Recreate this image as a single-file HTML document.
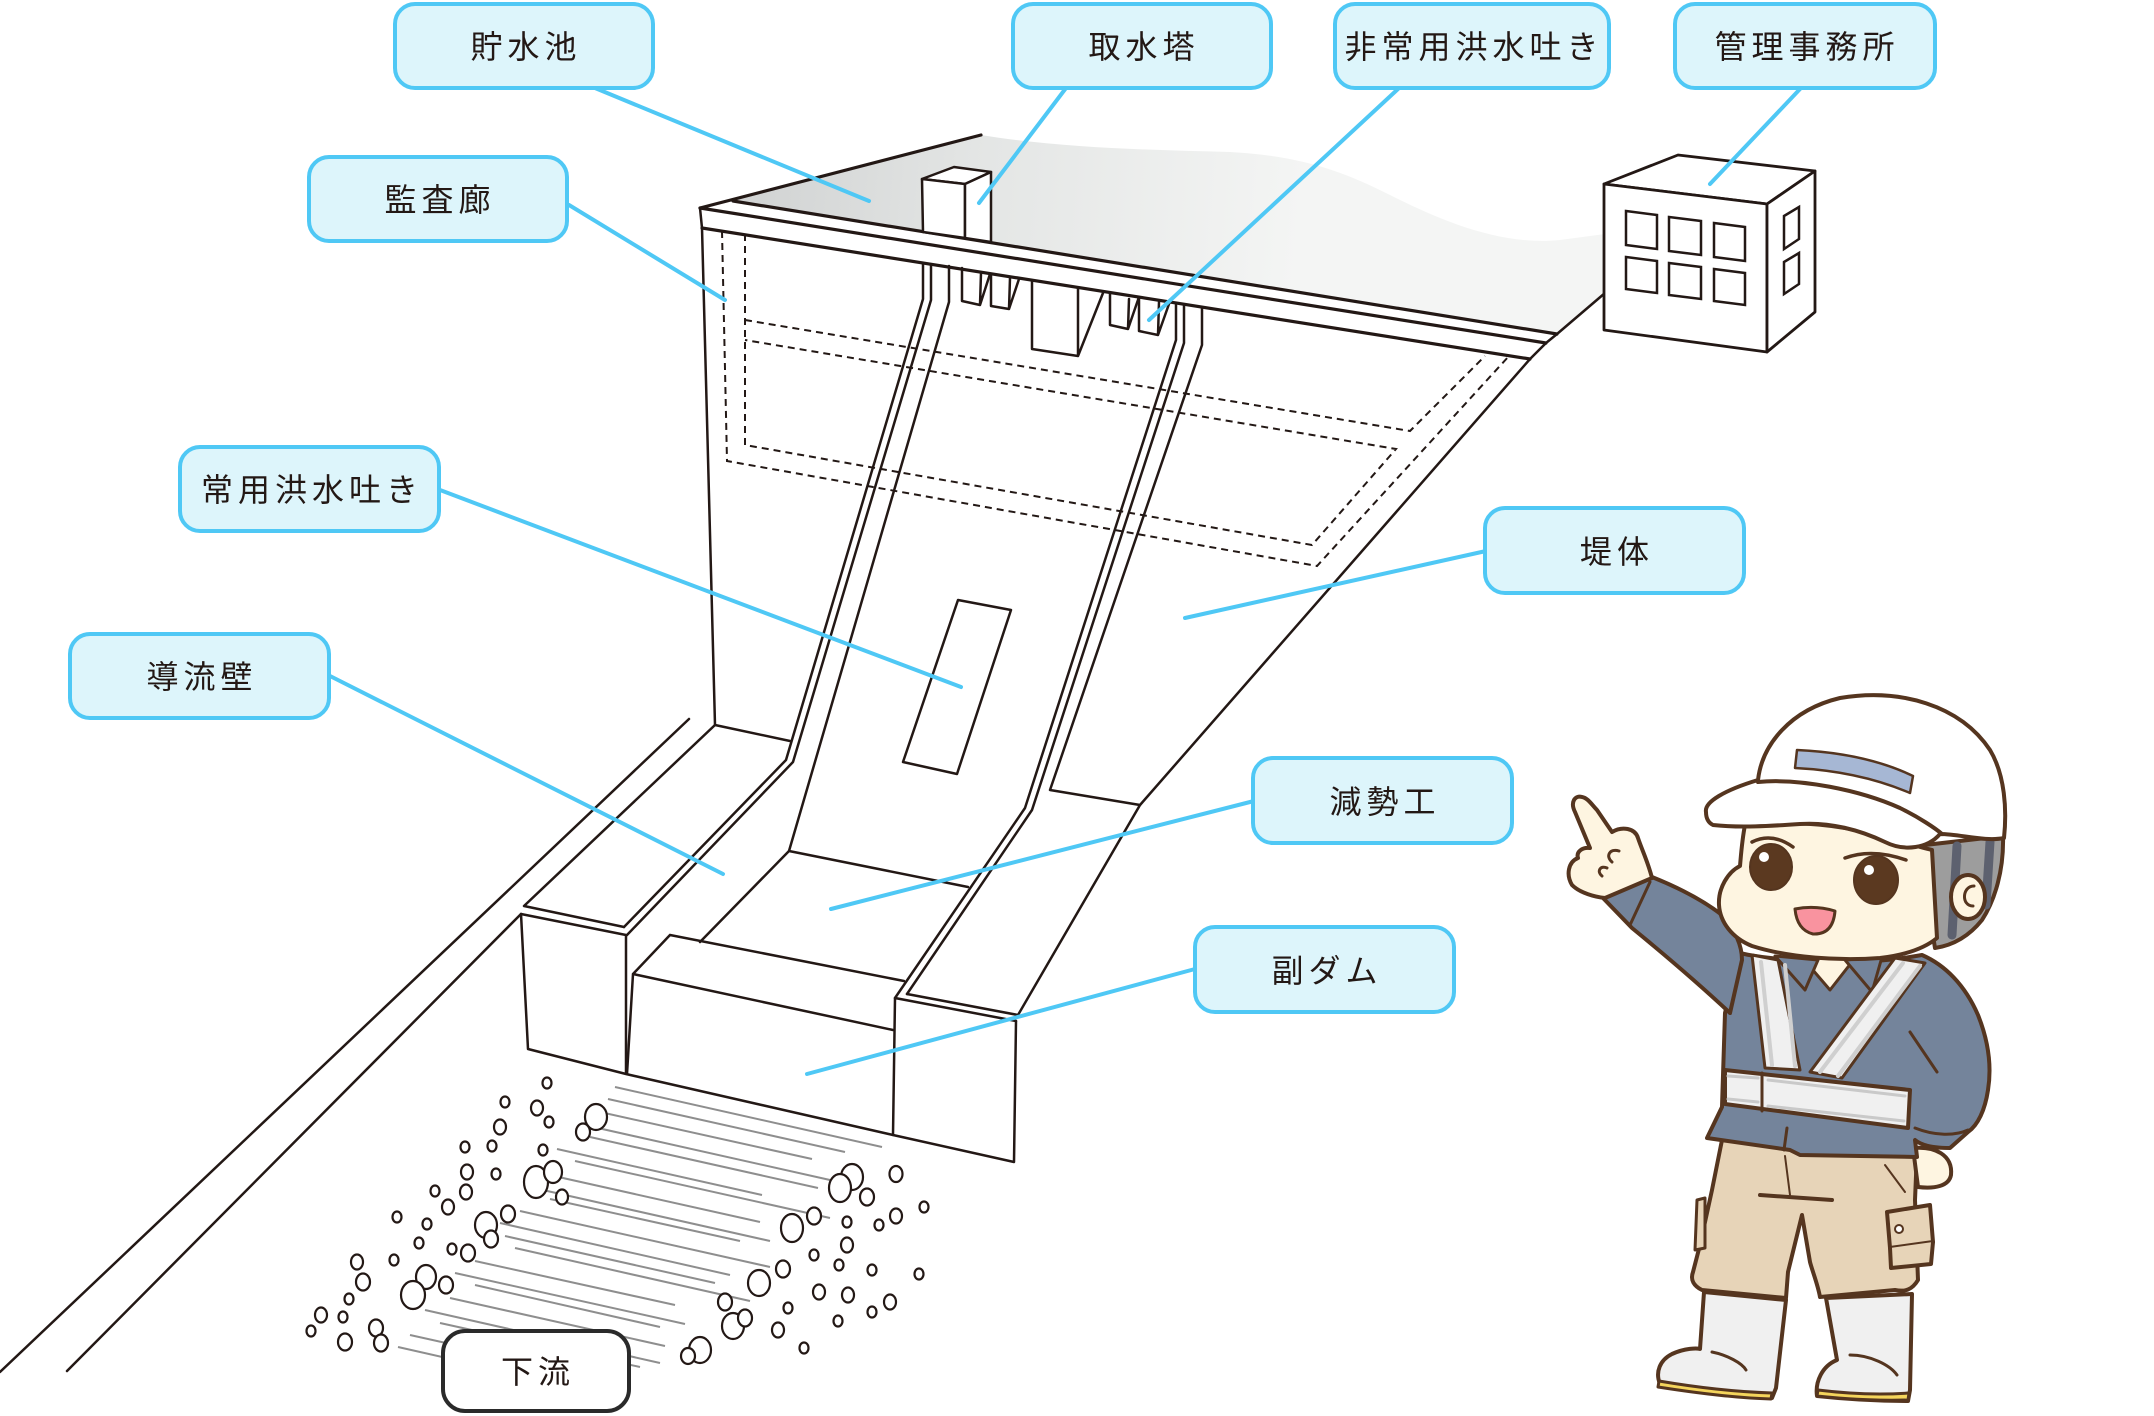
<!DOCTYPE html>
<html><head><meta charset="utf-8"><style>
html,body{margin:0;padding:0;background:#fff;}
svg{display:block;}
.d{fill:none;stroke:#231815;stroke-width:2.5;stroke-linejoin:round;stroke-linecap:round;}
.c{fill:none;stroke:#231815;stroke-width:3.2;stroke-linecap:round;}
.ds{fill:none;stroke:#231815;stroke-width:2;stroke-dasharray:7 5;}
.w{fill:none;stroke:#8e8e8e;stroke-width:2;}
.r{fill:#fff;stroke:#231815;stroke-width:2.2;}
.l{stroke:#4fc8f5;stroke-width:4;stroke-linecap:round;fill:none;}
.b{fill:#ddf5fb;stroke:#4fc8f5;stroke-width:4;}
.t{font-family:"Liberation Sans","Noto Sans CJK JP",sans-serif;font-size:32px;fill:#231815;letter-spacing:5px;text-anchor:middle;font-weight:normal;}
.o{stroke:#55351f;stroke-width:4;stroke-linejoin:round;stroke-linecap:round;}
</style></head><body>
<svg width="2154" height="1416" viewBox="0 0 2154 1416" xmlns="http://www.w3.org/2000/svg">
<defs>
<linearGradient id="g" x1="720" y1="200" x2="1300" y2="250" gradientUnits="userSpaceOnUse">
<stop offset="0" stop-color="#cfd1d1"/><stop offset="0.45" stop-color="#e4e6e5"/><stop offset="1" stop-color="#f4f5f4"/>
</linearGradient>
</defs>

<!-- reservoir -->
<path d="M700,208 L981,135 C1060,148 1150,150 1230,152 C1300,156 1340,170 1390,195 C1440,220 1500,246 1560,240 L1605,234 L1605,293 L1557,334 L733,201 Z" fill="url(#g)"/>
<path class="c" d="M700,208 L981,135"/>

<!-- crest -->
<path class="c" d="M733,201 L1557,334"/>
<path class="c" d="M700,208 L1546,343"/>
<path class="c" d="M702,228 L1530,359"/>
<path class="d" d="M700,208 L702,228 L715,725"/>
<path class="d" d="M1605,293 L1557,334 L1546,343 L1530,359 L1140,805 L1018,1015"/>

<!-- gallery dashed -->
<path class="ds" d="M722,231 L727,461 L1317,566 L1509,356"/>
<path class="ds" d="M745,234 L745,445 L1312,545 L1396,449 L745,340"/>
<path class="ds" d="M745,320 L1410,431 L1485,356"/>

<!-- spillway walls -->
<path class="d" d="M923,263 L923,299 L786,760 L624,927"/>
<path class="d" d="M931,265 L931,300 L793,762 L627,935"/>
<path class="d" d="M949,266 L949,302 L789,851 L700,942"/>
<path class="d" d="M1176,304 L1176,340 L1025,808 L895,998"/>
<path class="d" d="M1184,305 L1184,343 L1032,810 L907,994"/>
<path class="d" d="M1202,307 L1202,345 L1050,790 L1140,805"/>
<path class="d" d="M789,851 L968,887"/>

<!-- gates -->
<path class="d" d="M962,268 L962,301 L980,305 L981,273 M980,305 L990,274"/>
<path class="d" d="M991,274 L991,306 L1009,309 L1010,278 M1009,309 L1019,279"/>
<path class="d" d="M1032,281 L1032,349 L1078,356 L1078,288 M1078,356 L1103,293"/>
<path class="d" d="M1110,293 L1110,325 L1128,329 L1129,299 M1128,329 L1139,297"/>
<path class="d" d="M1139,297 L1139,331 L1158,335 L1159,302 M1158,335 L1169,304"/>

<!-- tower -->
<path d="M922,179 L954,167 L991,172 L965,184 Z" fill="#fff" stroke="#231815" stroke-width="2.5" stroke-linejoin="round"/>
<path d="M922,179 L965,184 L965,238 L923,232 Z" fill="#fff" stroke="#231815" stroke-width="2.5" stroke-linejoin="round"/>
<path d="M965,184 L991,172 L991,242 L965,238 Z" fill="#fff" stroke="#231815" stroke-width="2.5" stroke-linejoin="round"/>

<!-- spillway opening -->
<path class="d" d="M958,600 L1011,610 L957,774 L903,762 Z"/>

<!-- lower structures -->
<path class="d" d="M715,725 L790,741"/>
<path class="d" d="M715,725 L524,906 L624,927"/>
<path class="d" d="M521,914 L626,935 L626,1074 M521,914 L528,1049 L626,1074 L893,1135 L1014,1162 L1016,1021"/>
<path class="d" d="M689,719 L0,1372"/>
<path class="d" d="M521,914 L67,1371"/>
<path class="d" d="M670,935 L904,981 M670,935 L633,974 L893,1030 M633,974 L627,1074"/>
<path class="d" d="M895,998 L1016,1021 M907,994 L1018,1015 M895,998 L893,1135"/>

<!-- building -->
<path d="M1604,184 L1678,155 L1815,171 L1767,204 Z" fill="#fff" stroke="#231815" stroke-width="2.8" stroke-linejoin="round"/>
<path d="M1604,184 L1767,204 L1767,352 L1604,330 Z" fill="#fff" stroke="#231815" stroke-width="2.8" stroke-linejoin="round"/>
<path d="M1767,204 L1815,171 L1815,312 L1767,352 Z" fill="#fff" stroke="#231815" stroke-width="2.8" stroke-linejoin="round"/>
<g fill="none" stroke="#231815" stroke-width="2.5">
<path d="M1626,211 L1657,215 L1657,249 L1626,245 Z"/>
<path d="M1669,217 L1701,221 L1701,255 L1669,251 Z"/>
<path d="M1714,223 L1745,227 L1745,261 L1714,257 Z"/>
<path d="M1626,257 L1657,261 L1657,293 L1626,289 Z"/>
<path d="M1669,263 L1701,267 L1701,299 L1669,295 Z"/>
<path d="M1714,269 L1745,273 L1745,305 L1714,301 Z"/>
<path d="M1784,216 L1799,207 L1799,239 L1784,249 Z"/>
<path d="M1784,262 L1799,253 L1799,284 L1784,294 Z"/>
</g>

<!-- water lines -->
<g class="w">
<path d="M615,1087 L882,1147"/><path d="M608,1099 L845,1152"/><path d="M600,1112 L812,1159"/>
<path d="M580,1124 L830,1180"/><path d="M590,1137 L818,1188"/><path d="M557,1149 L762,1195"/>
<path d="M575,1161 L830,1218"/><path d="M545,1174 L760,1222"/><path d="M525,1186 L770,1241"/>
<path d="M550,1199 L740,1241"/><path d="M520,1211 L770,1267"/><path d="M500,1223 L730,1275"/>
<path d="M505,1236 L715,1283"/><path d="M515,1248 L750,1301"/><path d="M475,1261 L675,1305"/>
<path d="M455,1273 L685,1324"/><path d="M475,1285 L660,1327"/><path d="M450,1298 L665,1346"/>
<path d="M425,1310 L660,1363"/><path d="M440,1323 L640,1367"/><path d="M410,1335 L590,1375"/>
<path d="M398,1347 L548,1381"/>
</g>

<!-- rocks -->
<g class="r">
<ellipse cx="547" cy="1083" rx="4.5" ry="5.5"/><ellipse cx="505" cy="1102" rx="4.5" ry="5.5"/><ellipse cx="537" cy="1108" rx="6" ry="7.5"/>
<ellipse cx="549" cy="1122" rx="4.5" ry="5.5"/><ellipse cx="500" cy="1127" rx="6" ry="7.5"/>
<ellipse cx="596" cy="1117" rx="11" ry="13"/><ellipse cx="583" cy="1132" rx="7" ry="8.5"/>
<ellipse cx="465" cy="1147" rx="4.5" ry="5.5"/><ellipse cx="492" cy="1146" rx="4.5" ry="5.5"/><ellipse cx="543" cy="1150" rx="4.5" ry="5.5"/>
<ellipse cx="467" cy="1172" rx="6" ry="7.5"/><ellipse cx="496" cy="1174" rx="4.5" ry="5.5"/>
<ellipse cx="536" cy="1182" rx="12" ry="16"/><ellipse cx="553" cy="1172" rx="9" ry="11"/><ellipse cx="562" cy="1197" rx="6" ry="7.5"/>
<ellipse cx="466" cy="1192" rx="6" ry="7.5"/><ellipse cx="435" cy="1191" rx="4.5" ry="5.5"/><ellipse cx="448" cy="1207" rx="6" ry="7.5"/>
<ellipse cx="397" cy="1217" rx="4.5" ry="5.5"/><ellipse cx="427" cy="1224" rx="4.5" ry="5.5"/>
<ellipse cx="486" cy="1225" rx="11" ry="13"/><ellipse cx="508" cy="1214" rx="7" ry="8.5"/><ellipse cx="491" cy="1239" rx="7" ry="8.5"/>
<ellipse cx="419" cy="1243" rx="4.5" ry="5.5"/><ellipse cx="452" cy="1249" rx="4.5" ry="5.5"/><ellipse cx="468" cy="1253" rx="7" ry="8.5"/>
<ellipse cx="357" cy="1262" rx="6" ry="7.5"/><ellipse cx="394" cy="1260" rx="4.5" ry="5.5"/><ellipse cx="363" cy="1282" rx="7" ry="8.5"/>
<ellipse cx="426" cy="1277" rx="10" ry="12"/><ellipse cx="413" cy="1295" rx="12" ry="14"/><ellipse cx="446" cy="1285" rx="7" ry="8.5"/>
<ellipse cx="349" cy="1299" rx="4.5" ry="5.5"/><ellipse cx="321" cy="1315" rx="6" ry="7.5"/><ellipse cx="343" cy="1317" rx="4.5" ry="5.5"/>
<ellipse cx="311" cy="1331" rx="4.5" ry="5.5"/><ellipse cx="345" cy="1342" rx="7" ry="8.5"/><ellipse cx="376" cy="1328" rx="7" ry="8.5"/><ellipse cx="381" cy="1343" rx="7" ry="8.5"/>
<ellipse cx="852" cy="1177" rx="11" ry="13"/><ellipse cx="840" cy="1188" rx="11" ry="14"/><ellipse cx="896" cy="1174" rx="6.5" ry="8"/>
<ellipse cx="867" cy="1197" rx="7" ry="8.5"/><ellipse cx="924" cy="1207" rx="4.5" ry="5.5"/><ellipse cx="896" cy="1216" rx="6" ry="7.5"/>
<ellipse cx="814" cy="1216" rx="7" ry="8.5"/><ellipse cx="792" cy="1228" rx="11" ry="14"/><ellipse cx="847" cy="1222" rx="4.5" ry="5.5"/><ellipse cx="879" cy="1225" rx="4.5" ry="5.5"/>
<ellipse cx="847" cy="1245" rx="6" ry="7.5"/><ellipse cx="814" cy="1255" rx="4.5" ry="5.5"/><ellipse cx="839" cy="1265" rx="4.5" ry="5.5"/>
<ellipse cx="783" cy="1269" rx="7" ry="8.5"/><ellipse cx="759" cy="1283" rx="11" ry="13"/><ellipse cx="872" cy="1270" rx="4.5" ry="5.5"/><ellipse cx="919" cy="1274" rx="4.5" ry="5.5"/>
<ellipse cx="819" cy="1292" rx="6" ry="7.5"/><ellipse cx="848" cy="1295" rx="6" ry="7.5"/><ellipse cx="725" cy="1302" rx="7" ry="8.5"/>
<ellipse cx="788" cy="1308" rx="4.5" ry="5.5"/><ellipse cx="890" cy="1302" rx="6" ry="7.5"/><ellipse cx="872" cy="1312" rx="4.5" ry="5.5"/><ellipse cx="838" cy="1321" rx="4.5" ry="5.5"/>
<ellipse cx="778" cy="1330" rx="6" ry="7.5"/><ellipse cx="733" cy="1326" rx="11" ry="13"/><ellipse cx="745" cy="1318" rx="7" ry="8.5"/>
<ellipse cx="700" cy="1350" rx="11" ry="13"/><ellipse cx="688" cy="1356" rx="7" ry="8"/><ellipse cx="804" cy="1348" rx="4.5" ry="5.5"/>
</g>

<!-- leader lines -->
<g class="l">
<path d="M595,88 L869,201"/>
<path d="M1066,88 L979,203"/>
<path d="M1398,89 L1149,320"/>
<path d="M1800,89 L1710,184"/>
<path d="M569,205 L725,300"/>
<path d="M440,490 L961,687"/>
<path d="M330,676 L723,874"/>
<path d="M1486,551 L1185,618"/>
<path d="M1254,801 L831,909"/>
<path d="M1195,969 L807,1074"/>
</g>

<!-- label boxes -->
<rect class="b" x="395" y="4" width="258" height="84" rx="20"/>
<text class="t" x="526" y="58">貯水池</text>
<rect class="b" x="1013" y="4" width="258" height="84" rx="20"/>
<text class="t" x="1144" y="58">取水塔</text>
<rect class="b" x="1335" y="4" width="274" height="84" rx="20"/>
<text class="t" x="1474" y="58">非常用洪水吐き</text>
<rect class="b" x="1675" y="4" width="260" height="84" rx="20"/>
<text class="t" x="1807" y="58">管理事務所</text>
<rect class="b" x="309" y="157" width="258" height="84" rx="20"/>
<text class="t" x="440" y="211">監査廊</text>
<rect class="b" x="180" y="447" width="259" height="84" rx="20"/>
<text class="t" x="312" y="501">常用洪水吐き</text>
<rect class="b" x="70" y="634" width="259" height="84" rx="20"/>
<text class="t" x="202" y="688">導流壁</text>
<rect class="b" x="1485" y="508" width="259" height="85" rx="20"/>
<text class="t" x="1617" y="563">堤体</text>
<rect class="b" x="1253" y="758" width="259" height="85" rx="20"/>
<text class="t" x="1385" y="813">減勢工</text>
<rect class="b" x="1195" y="927" width="259" height="85" rx="20"/>
<text class="t" x="1327" y="982">副ダム</text>
<rect x="443" y="1331" width="186" height="80" rx="22" fill="#fff" stroke="#2a2a2a" stroke-width="4"/>
<text class="t" x="538" y="1383">下流</text>

<!-- character -->
<g class="o">
<!-- boots -->
<path fill="#f0f0f0" d="M1704,1292 L1786,1300 L1776,1388 L1772,1398 C1735,1396 1690,1390 1660,1384 C1655,1372 1660,1360 1672,1354 C1685,1348 1697,1348 1700,1349 Z"/>
<path fill="#f5d55c" stroke-width="3" d="M1659,1381 C1700,1388 1740,1392 1772,1393 L1771,1399 C1735,1398 1690,1392 1658,1387 Z"/>
<path fill="none" stroke-width="3" d="M1712,1352 C1727,1355 1742,1363 1746,1370"/>
<path fill="#f0f0f0" d="M1826,1298 L1912,1294 L1910,1390 L1908,1401 C1880,1401 1845,1399 1817,1396 C1815,1382 1822,1366 1837,1360 Z"/>
<path fill="#f5d55c" stroke-width="3" d="M1818,1390 C1850,1394 1880,1395 1909,1393 L1908,1400 C1875,1401 1845,1399 1817,1396 Z"/>
<path fill="none" stroke-width="3" d="M1850,1355 C1870,1355 1890,1365 1897,1375"/>
<!-- pants -->
<path fill="#e7d4b8" d="M1722,1140 L1917,1152 L1915,1200 L1918,1280 C1912,1290 1905,1292 1895,1290 L1820,1297 C1818,1285 1812,1270 1810,1262 L1802,1215 L1788,1272 L1786,1298 L1702,1290 C1694,1286 1690,1280 1693,1272 L1700,1245 L1712,1190 Z"/>
<path fill="#e7d4b8" d="M1887,1212 L1930,1205 L1933,1242 L1890,1248 Z"/>
<path fill="#e7d4b8" d="M1890,1248 L1891,1268 L1931,1264 L1933,1242"/>
<circle cx="1899" cy="1229" r="4" fill="#fff" stroke-width="2"/>
<path fill="#e7d4b8" stroke-width="3" d="M1697,1200 L1705,1198 L1705,1248 L1695,1250 Z"/>
<path fill="none" d="M1760,1195 L1832,1200"/>
<path fill="none" stroke-width="2" d="M1785,1156 L1790,1195 M1885,1165 L1905,1192"/>
<!-- hand on hip -->
<path fill="#fef5e1" d="M1913,1148 C1935,1146 1953,1155 1951,1175 C1949,1186 1935,1189 1918,1187 Z"/>
<!-- jacket -->
<path fill="#74849b" d="M1740,953 C1760,958 1800,962 1850,962 C1880,962 1905,958 1922,955 C1945,965 1965,985 1978,1015 C1988,1040 1992,1065 1988,1090 C1985,1110 1978,1125 1968,1132 L1950,1148 C1935,1148 1922,1146 1915,1140 L1917,1157 L1800,1155 L1790,1150 L1707,1138 L1722,1107 L1725,1013 Z"/>
<path fill="none" stroke-width="3" d="M1910,1032 L1937,1072 M1915,1128 C1935,1136 1955,1136 1968,1130 M1787,1128 L1784,1150"/>
<!-- collar -->
<path fill="#fef5e1" stroke-width="3" d="M1800,955 L1855,958 L1830,990 Z"/>
<path fill="#74849b" stroke-width="3" d="M1775,956 L1805,990 L1818,960 Z"/>
<path fill="#74849b" stroke-width="3" d="M1845,960 L1872,992 L1882,957 Z"/>
<!-- vest straps -->
<path fill="#f0f0f0" stroke-width="3" d="M1752,955 L1778,960 L1800,1070 L1765,1068 Z"/>
<path fill="none" stroke="#cfcfcf" stroke-width="4" d="M1761,962 L1772,1065 M1785,965 L1795,1066"/>
<path fill="#f0f0f0" stroke-width="3" d="M1895,958 L1925,963 L1842,1078 L1810,1072 Z"/>
<path fill="none" stroke="#cfcfcf" stroke-width="4" d="M1903,963 L1820,1072 M1920,966 L1838,1076"/>
<!-- belt -->
<path fill="#f0f0f0" d="M1725,1070 L1910,1090 L1908,1128 L1725,1104 Z"/>
<path fill="none" stroke-width="3" d="M1762,1073 L1762,1111"/>
<path fill="none" stroke="#c9c9c9" stroke-width="3" d="M1728,1076 L1758,1078 M1728,1099 L1758,1102 M1768,1080 L1905,1096 M1768,1106 L1904,1121"/>
<!-- pointing arm -->
<path fill="#74849b" d="M1603,898 L1652,877 C1672,885 1700,898 1722,915 C1735,930 1742,945 1742,960 L1730,1013 C1700,985 1665,955 1632,928 Z"/>
<path fill="none" stroke-width="3" d="M1650,882 L1630,925"/>
<path fill="#fef5e1" d="M1605,898 C1595,897 1580,893 1572,885 C1566,875 1568,862 1578,858 C1576,852 1582,847 1590,848 L1575,812 C1570,802 1575,795 1582,797 C1588,798 1592,805 1597,810 L1612,832 C1622,826 1635,828 1638,838 C1642,850 1648,862 1652,878 Z"/>
<path fill="none" stroke-width="3" d="M1612,862 C1605,856 1610,848 1619,851 M1602,876 C1596,871 1601,865 1607,868"/>
<!-- hair -->
<path fill="#9d9d9d" d="M1925,845 L2003,836 C2004,870 1995,900 1982,920 C1970,935 1955,945 1935,948 C1930,920 1928,880 1925,845 Z"/>
<path fill="none" stroke="#5d616f" stroke-width="9" d="M1957,846 L1952,935 M1990,842 L1986,905"/>
<ellipse cx="1968" cy="897" rx="17" ry="22" fill="#fef5e1"/>
<path fill="none" stroke-width="3" d="M1974,886 C1962,886 1961,906 1973,906"/>
<!-- face -->
<path fill="#fef5e1" d="M1745,825 C1742,840 1741,855 1740,866 C1728,872 1718,888 1719,905 C1720,922 1732,938 1752,946 C1790,958 1840,961 1880,958 C1905,955 1925,948 1937,938 L1932,850 C1900,842 1870,832 1845,828 C1810,822 1770,822 1745,825 Z"/>
<ellipse cx="1771" cy="867" rx="21" ry="23" fill="#5b3920" stroke-width="2"/>
<ellipse cx="1876" cy="880" rx="22" ry="24" fill="#5b3920" stroke-width="2"/>
<circle cx="1764" cy="857" r="5" fill="#fff" stroke="none"/>
<circle cx="1869" cy="870" r="5" fill="#fff" stroke="none"/>
<path fill="none" stroke-width="3.5" d="M1752,842 Q1772,832 1793,847 M1845,858 Q1872,848 1906,860"/>
<path fill="#f9939f" stroke-width="3" d="M1795,909 Q1815,905 1835,911 Q1833,935 1813,934 Q1797,930 1795,909 Z"/>
<!-- helmet -->
<path fill="#fff" d="M1706,812 C1704,802 1725,790 1758,780 C1762,745 1790,710 1840,698 C1900,688 1960,705 1990,750 C2005,775 2007,810 2004,838 C1985,842 1960,834 1940,834 C1928,848 1905,852 1885,842 C1860,830 1830,822 1800,824 C1770,826 1740,828 1713,825 C1707,822 1706,816 1706,812 Z"/>
<path fill="none" d="M1758,782 C1800,778 1860,790 1900,808 C1920,818 1935,828 1942,834"/>
<path fill="#a6b7d4" stroke-width="2.5" d="M1797,750 C1840,752 1880,760 1913,776 L1910,793 C1875,778 1835,770 1795,768 Z"/>
</g>
</svg>
</body></html>
